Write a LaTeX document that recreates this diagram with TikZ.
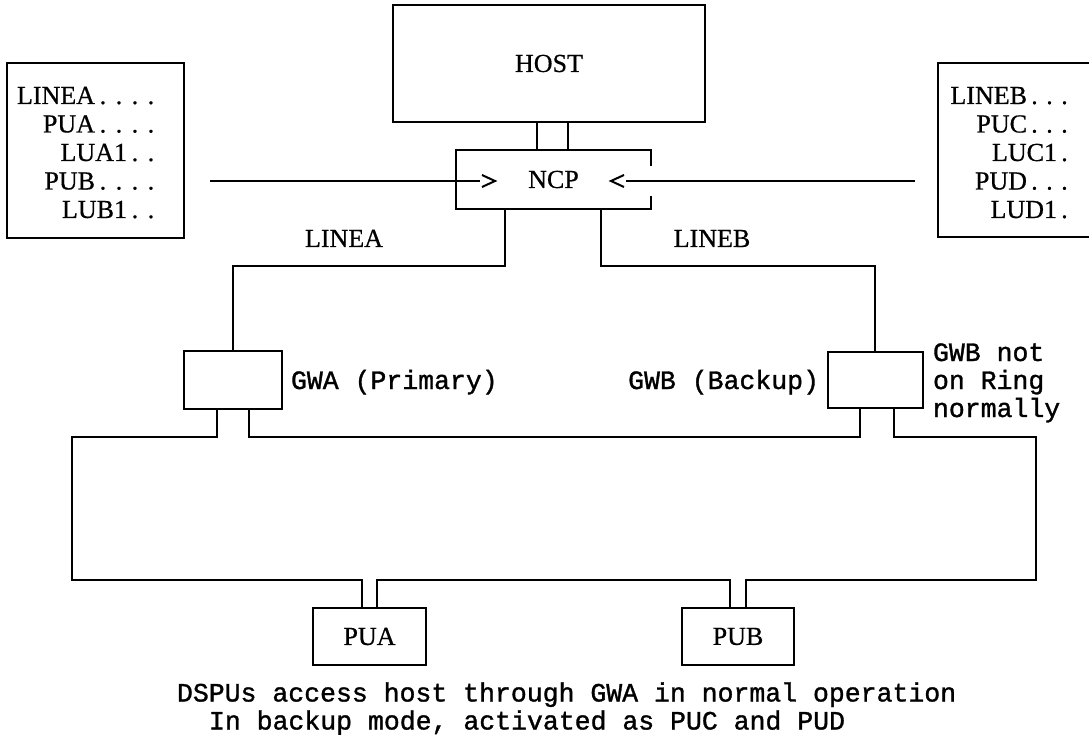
\documentclass[tikz,border=0pt]{standalone}
\usepackage{fontspec}
\setmainfont{Liberation Serif}[FakeBold=0.6]
\setmonofont{Liberation Mono}[FakeBold=1.2]
\newcommand\dt{\makebox[16pt]{.}}
\newcommand\rdt{\makebox[15pt]{.}}
\begin{document}
\begin{tikzpicture}[x=1pt,y=-1pt,line width=2pt,
  box/.style={draw,rectangle,inner sep=0pt},
  sertxt/.style={font=\fontsize{26}{28.5}\selectfont,inner sep=0pt},
  montxt/.style={font=\ttfamily\fontsize{26.5}{28}\selectfont,inner sep=0pt},
  wire/.style={line join=miter}]
\useasboundingbox (0,0) rectangle (1089,735);
\clip (0,0) rectangle (1089,735);

% boxes
\node[box,minimum width=312,minimum height=117,sertxt] (host) at (549,63.5) {HOST};
\node[rectangle,inner sep=0pt,minimum width=193,minimum height=57,sertxt] (ncp) at (553.5,179.5) {NCP};
\node[box,minimum width=98,minimum height=58] (gwa) at (233,380) {};
\node[box,minimum width=95,minimum height=56] (gwb) at (875,380) {};
\node[box,minimum width=113,minimum height=57,sertxt] (pua) at (369.5,636.5) {PUA};
\node[box,minimum width=112,minimum height=57,sertxt] (pub) at (738,636.5) {PUB};
\node[box,minimum width=177,minimum height=175] (lbox) at (95.5,150.5) {};
\node[box,minimum width=200,minimum height=174] (rbox) at (1038,150) {};

% NCP outline with opening on the right
\draw[wire] (ncp.south east) ++(0,-13) -- (ncp.south east) -- (ncp.south west)
  -- (ncp.north west) -- (ncp.north east) -- ++(0,16);

% definition lists (base anchor = last line)
\node[sertxt,align=right,anchor=base east] (ltxt) at (160,218)
  {LINEA\dt\dt\dt\dt\\PUA\dt\dt\dt\dt\\LUA1\dt\dt\\PUB\dt\dt\dt\dt\\LUB1\dt\dt};
\node[sertxt,align=right,anchor=base east] (rtxt) at (1073,218)
  {LINEB\rdt\rdt\rdt\\PUC\rdt\rdt\rdt\\LUC1\rdt\\PUD\rdt\rdt\rdt\\LUD1\rdt};

% arrows into NCP
\coordinate (la) at (210,181);
\coordinate (lb) at (480,181);
\coordinate (ra) at (915,181);
\coordinate (rb) at (626,181);
\draw (la) -- (lb);
\draw[wire] ([shift={(2,-6)}]lb) -- ([shift={(15,0)}]lb) -- ([shift={(2,6)}]lb);
\draw (ra) -- (rb);
\draw[wire] ([shift={(-2,-6)}]rb) -- ([shift={(-15,0)}]rb) -- ([shift={(-2,6)}]rb);

% HOST - NCP channel
\draw ([xshift=-12pt]host.south) -- ([xshift=-12pt]host.south |- ncp.north);
\draw ([xshift=19pt]host.south) -- ([xshift=19pt]host.south |- ncp.north);

% lines to gateways
\draw[wire] ([xshift=-48.5pt]ncp.south) -- ++(0,57) -| (gwa.north);
\draw[wire] ([xshift=47.5pt]ncp.south) -- ++(0,57) -| (gwb.north);
\node[sertxt,anchor=base] (lineA) at (344,247) {LINEA};
\node[sertxt,anchor=base] (lineB) at (712,247) {LINEB};

% ring
\coordinate (ga1) at ([xshift=-16pt]gwa.south);
\coordinate (ga2) at ([xshift=16pt]gwa.south);
\coordinate (gb1) at ([xshift=-15pt]gwb.south);
\coordinate (gb2) at ([xshift=19pt]gwb.south);
\coordinate (pa1) at ([xshift=-7.5pt]pua.north);
\coordinate (pa2) at ([xshift=7.5pt]pua.north);
\coordinate (pb1) at ([xshift=-8pt]pub.north);
\coordinate (pb2) at ([xshift=8pt]pub.north);
\coordinate (rtl) at (72,437);
\coordinate (rbr) at (1036,580);
\draw[wire] (ga1) |- (rtl) -- (rtl |- rbr) -| (pa1);
\draw[wire] (ga2) |- (gb1 |- rtl) -- (gb1);
\draw[wire] (gb2) |- (rbr |- rtl) -- (rbr) -| (pb2);
\draw[wire] (pa2) -- (pa2 |- rbr) -| (pb1);

% labels
\node[montxt,anchor=base west] (gwaL) at (290,389) {GWA (Primary)};
\node[montxt,anchor=base east] (gwbL) at (820,389) {GWB (Backup)};
\node[montxt,align=left,anchor=base west] (gwbN) at (932,417) {GWB not\\on Ring\\normally};
\node[montxt,anchor=base west] (cap1) at (176,701.5) {DSPUs access host through GWA in normal operation};
\node[montxt,anchor=base west] (cap2) at (208,729.5) {In backup mode, activated as PUC and PUD};
\end{tikzpicture}
\end{document}
